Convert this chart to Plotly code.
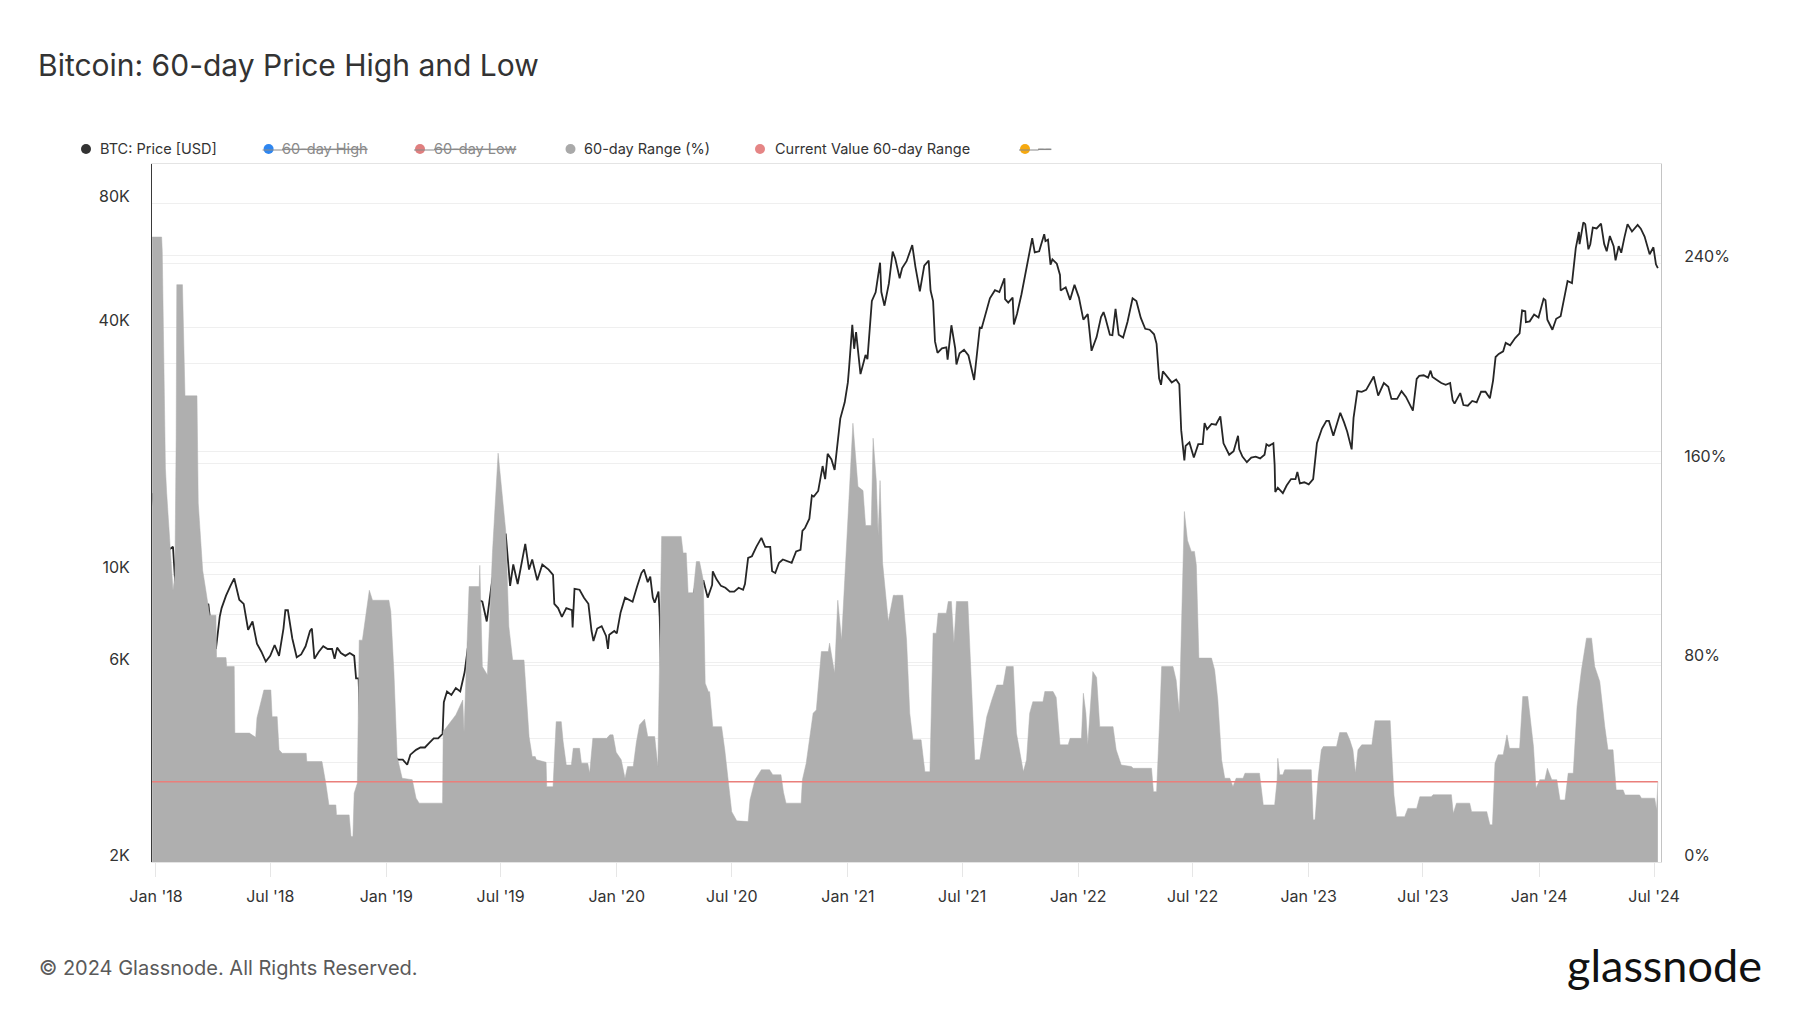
import plotly.graph_objects as go
import math

# ---------------- data ----------------
price_dates = [
"2017-12-26","2018-01-01","2018-01-07","2018-01-14","2018-01-17","2018-01-21","2018-01-28","2018-02-02","2018-02-05","2018-02-06",
"2018-02-11","2018-02-18","2018-02-20","2018-02-25","2018-03-04","2018-03-11","2018-03-18","2018-03-25","2018-04-01","2018-04-06",
"2018-04-12","2018-04-15","2018-04-22","2018-04-29","2018-05-05","2018-05-13","2018-05-20","2018-05-27","2018-06-03","2018-06-10",
"2018-06-17","2018-06-24","2018-07-01","2018-07-08","2018-07-15","2018-07-22","2018-07-25","2018-07-29","2018-08-05","2018-08-12",
"2018-08-19","2018-08-26","2018-09-02","2018-09-05","2018-09-09","2018-09-16","2018-09-23","2018-09-30","2018-10-07","2018-10-11",
"2018-10-15","2018-10-21","2018-10-28","2018-11-04","2018-11-11","2018-11-14","2018-11-18","2018-11-20","2018-11-25","2018-12-02",
"2018-12-09","2018-12-15","2018-12-20","2018-12-24","2018-12-31",
"2019-01-06","2019-01-10","2019-01-20","2019-01-27","2019-02-03","2019-02-08","2019-02-17","2019-02-24","2019-03-03","2019-03-10",
"2019-03-17","2019-03-24","2019-03-31","2019-04-02","2019-04-07","2019-04-14","2019-04-21","2019-04-28","2019-05-05","2019-05-12",
"2019-05-14","2019-05-17","2019-05-26","2019-06-02","2019-06-09","2019-06-16","2019-06-22","2019-06-26","2019-06-28","2019-07-02",
"2019-07-09","2019-07-16","2019-07-21","2019-07-28","2019-08-04","2019-08-09","2019-08-15","2019-08-20","2019-08-28","2019-09-05",
"2019-09-15","2019-09-22","2019-09-24","2019-09-30","2019-10-06","2019-10-13","2019-10-22","2019-10-23","2019-10-26","2019-11-03",
"2019-11-10","2019-11-17","2019-11-22","2019-11-25","2019-12-01","2019-12-08","2019-12-15","2019-12-18","2019-12-20","2019-12-28",
"2020-01-01","2020-01-07","2020-01-14","2020-01-19","2020-01-26","2020-02-02","2020-02-09","2020-02-13","2020-02-19","2020-02-23",
"2020-02-27","2020-03-01","2020-03-07","2020-03-09","2020-03-12","2020-03-16","2020-03-19","2020-03-22","2020-03-29","2020-04-05",
"2020-04-12","2020-04-19","2020-04-26","2020-04-30","2020-05-07","2020-05-10","2020-05-17","2020-05-24","2020-05-31","2020-06-01",
"2020-06-07","2020-06-14","2020-06-21","2020-06-28","2020-07-05","2020-07-12","2020-07-19","2020-07-22","2020-07-27","2020-08-02",
"2020-08-09","2020-08-17","2020-08-23","2020-08-31","2020-09-03","2020-09-08","2020-09-14","2020-09-20","2020-09-27","2020-10-04",
"2020-10-11","2020-10-18","2020-10-21","2020-10-25","2020-11-01","2020-11-05","2020-11-08","2020-11-15","2020-11-22","2020-11-26",
"2020-11-30","2020-12-06","2020-12-11","2020-12-16","2020-12-20","2020-12-27",
"2021-01-01","2021-01-03","2021-01-08","2021-01-11","2021-01-14","2021-01-21","2021-01-24","2021-01-29","2021-02-01","2021-02-08",
"2021-02-14","2021-02-21","2021-02-23","2021-02-28","2021-03-07","2021-03-13","2021-03-17","2021-03-24","2021-03-28","2021-04-04",
"2021-04-13","2021-04-18","2021-04-25","2021-05-02","2021-05-09","2021-05-12","2021-05-16","2021-05-19","2021-05-23","2021-05-30",
"2021-06-06","2021-06-08","2021-06-14","2021-06-20","2021-06-22","2021-06-27","2021-07-04","2021-07-11","2021-07-20","2021-07-25",
"2021-07-29","2021-08-01","2021-08-08","2021-08-14","2021-08-22","2021-08-29","2021-09-06","2021-09-07","2021-09-12","2021-09-19",
"2021-09-21","2021-09-26","2021-10-03","2021-10-10","2021-10-17","2021-10-20","2021-10-24","2021-10-31","2021-11-08","2021-11-10",
"2021-11-14","2021-11-18","2021-11-21","2021-11-28","2021-12-03","2021-12-04","2021-12-12","2021-12-19","2021-12-26",
"2022-01-02","2022-01-09","2022-01-16","2022-01-22","2022-01-30","2022-02-06","2022-02-10","2022-02-13","2022-02-20","2022-02-24",
"2022-03-01","2022-03-06","2022-03-13","2022-03-20","2022-03-28","2022-04-03","2022-04-10","2022-04-17","2022-04-24","2022-05-01",
"2022-05-05","2022-05-09","2022-05-12","2022-05-15","2022-05-22","2022-05-29","2022-06-05","2022-06-10","2022-06-13","2022-06-18",
"2022-06-20","2022-06-26","2022-07-03","2022-07-10","2022-07-17","2022-07-20","2022-07-24","2022-07-31","2022-08-07","2022-08-14",
"2022-08-19","2022-08-28","2022-09-04","2022-09-11","2022-09-13","2022-09-18","2022-09-25","2022-10-02","2022-10-09","2022-10-16",
"2022-10-23","2022-10-26","2022-10-30","2022-11-06","2022-11-08","2022-11-09","2022-11-13","2022-11-21","2022-11-27","2022-12-04",
"2022-12-11","2022-12-14","2022-12-18","2022-12-25",
"2023-01-01","2023-01-08","2023-01-14","2023-01-22","2023-01-29","2023-02-02","2023-02-09","2023-02-16","2023-02-20","2023-02-26",
"2023-03-03","2023-03-10","2023-03-13","2023-03-19","2023-03-26","2023-04-02","2023-04-10","2023-04-14","2023-04-21","2023-04-30",
"2023-05-07","2023-05-12","2023-05-21","2023-05-28","2023-06-04","2023-06-10","2023-06-15","2023-06-21","2023-06-25","2023-07-02",
"2023-07-09","2023-07-13","2023-07-16","2023-07-23","2023-07-30","2023-08-06","2023-08-13","2023-08-17","2023-08-20","2023-08-29",
"2023-09-03","2023-09-10","2023-09-17","2023-09-24","2023-10-01","2023-10-08","2023-10-15","2023-10-20","2023-10-24","2023-10-29",
"2023-11-05","2023-11-09","2023-11-16","2023-11-24","2023-12-01","2023-12-05","2023-12-10","2023-12-11","2023-12-17","2023-12-24",
"2023-12-31",
"2024-01-08","2024-01-11","2024-01-14","2024-01-22","2024-01-28","2024-02-04","2024-02-11","2024-02-15","2024-02-22","2024-02-28",
"2024-03-04","2024-03-05","2024-03-11","2024-03-14","2024-03-19","2024-03-22","2024-03-26","2024-04-01","2024-04-08","2024-04-13",
"2024-04-17","2024-04-22","2024-04-28","2024-05-01","2024-05-06","2024-05-10","2024-05-15","2024-05-20","2024-05-27","2024-06-05",
"2024-06-10","2024-06-16","2024-06-24","2024-06-30","2024-07-04","2024-07-07",
]
price_usd = [
15800,13400,16500,13600,11200,11500,11700,8800,6900,7700,
8100,10400,11200,9600,11400,9500,8200,8500,6800,6600,
7900,8300,8900,9400,9800,8700,8500,7350,7700,6800,
6500,6150,6350,6750,6350,7400,8200,8200,7000,6300,
6400,6700,7300,7400,6250,6500,6700,6600,6600,6250,
6650,6450,6350,6450,6350,5600,5600,4500,4000,4150,
3600,3250,4050,4050,3750,
4050,3600,3550,3550,3450,3650,3750,3800,3800,3900,
4000,4000,4100,4900,5200,5100,5300,5200,5800,7000,
8000,7300,8700,8600,7700,9300,10700,12900,12400,10600,
12600,9400,10600,9500,10800,11900,10300,10900,9700,10600,
10300,10000,8500,8300,7900,8300,8200,7450,9250,9200,
8800,8500,7300,6900,7400,7500,7100,6600,7150,7300,
7200,8100,8800,8700,8600,9350,10100,10300,9600,9900,
8800,8550,9100,7900,4900,5000,6200,5800,5900,6800,
6900,7100,7700,8650,9900,8750,9700,8800,9450,10200,
9750,9400,9300,9100,9100,9300,9200,9500,11000,11100,
11700,12300,11700,11700,10200,10100,10700,10900,10800,10700,
11400,11500,12800,13000,13700,15600,15500,16000,18400,17100,
19700,19100,18000,21300,24000,26300,
29400,32000,40600,35500,39000,30800,32300,34300,33500,46400,
48700,57500,48800,45200,51200,61200,58900,52700,55800,58000,
63500,56200,49000,56600,58200,49200,46400,37000,34700,35600,
35800,33400,40500,35600,32500,34600,35300,34200,29800,35400,
40000,39900,43800,47100,49300,48800,52700,46900,46000,47300,
40700,43200,48200,54700,61500,66000,60900,61300,67500,64900,
65400,56900,58600,57200,53700,49200,50100,46700,50800,
47300,41800,43100,35100,37900,42400,43600,42200,38400,38300,
44400,38400,37800,41300,47100,46400,42200,39700,39500,38500,
36500,30100,29000,31300,30300,29400,29900,29100,22500,19000,
20600,21000,19300,20800,20800,23400,22600,23300,23200,24300,
20900,19600,20000,21800,20200,19400,18800,19300,19400,19200,
19600,20800,20600,20900,18500,15900,16300,15800,16500,17100,
17100,17800,16700,16800,
16600,17100,20900,22700,23700,23700,21800,23600,24800,23500,
22300,20200,24100,28000,27900,28200,29600,30400,27300,29300,
28700,26800,26800,28000,27100,25900,25100,30000,30500,30600,
30200,31400,30300,29800,29300,29000,29300,26600,26100,27700,
25900,25800,26500,26300,27900,27900,26900,29700,33900,34500,
35000,36700,36200,37700,38700,44000,43800,41200,41400,43000,
42300,
47000,46600,41800,39500,42000,42600,48300,51900,51300,62400,
68300,63800,72100,71400,62000,63800,70000,69700,71600,63900,
61300,66800,63100,58300,63100,60800,66200,71400,68500,71100,
69600,66600,60300,62700,57000,55800,
]

range_dates = [
"2017-12-26","2018-01-10","2018-01-11","2018-01-13","2018-01-16","2018-01-18","2018-01-23","2018-01-25","2018-01-28","2018-01-31",
"2018-02-02","2018-02-03","2018-02-12","2018-02-16","2018-03-07","2018-03-09","2018-03-16","2018-03-21","2018-03-27","2018-04-06",
"2018-04-07","2018-04-22","2018-04-23","2018-05-05","2018-05-06","2018-05-29","2018-06-08","2018-06-10","2018-06-21","2018-07-02",
"2018-07-04","2018-07-12","2018-07-15","2018-07-20","2018-08-27","2018-08-28","2018-09-21","2018-09-27","2018-10-02","2018-10-13",
"2018-10-14","2018-11-03","2018-11-06","2018-11-09","2018-11-11","2018-11-16","2018-11-19","2018-11-24","2018-12-05","2018-12-10",
"2019-01-05","2019-01-08","2019-01-13","2019-01-18","2019-01-26","2019-02-11","2019-02-17","2019-02-22","2019-03-31","2019-04-01",
"2019-04-21","2019-05-02","2019-05-04","2019-05-12","2019-05-28","2019-05-29","2019-06-02","2019-06-10","2019-06-18","2019-06-27",
"2019-07-04","2019-07-09","2019-07-14","2019-07-20","2019-08-07","2019-08-10","2019-08-15","2019-08-20","2019-08-25","2019-08-26",
"2019-08-27","2019-09-11","2019-09-12","2019-09-22","2019-09-25","2019-09-27","2019-10-05","2019-10-08","2019-10-13","2019-10-21",
"2019-10-24","2019-11-03","2019-11-06","2019-11-16","2019-11-19","2019-11-24","2019-12-16","2019-12-21","2019-12-26","2019-12-31",
"2020-01-08","2020-01-14","2020-01-18","2020-01-27","2020-02-01","2020-02-06","2020-02-14","2020-02-19","2020-03-01","2020-03-06",
"2020-03-12","2020-04-12","2020-04-15","2020-04-20","2020-04-23","2020-05-01","2020-05-06","2020-05-11","2020-05-17","2020-05-20",
"2020-05-25","2020-05-26","2020-05-27","2020-05-30","2020-06-01","2020-06-15","2020-06-20","2020-07-01","2020-07-09","2020-07-27",
"2020-07-30","2020-08-07","2020-08-17","2020-08-30","2020-09-04","2020-09-17","2020-09-21","2020-09-25","2020-10-19","2020-10-21",
"2020-10-27","2020-11-07","2020-11-12","2020-11-20","2020-12-01","2020-12-03","2020-12-11","2020-12-16","2020-12-22","2020-12-27",
"2021-01-04","2021-01-09","2021-01-17","2021-01-25","2021-01-29","2021-02-07","2021-02-10","2021-02-15","2021-02-18","2021-02-21",
"2021-02-25","2021-03-06","2021-03-14","2021-03-17","2021-03-18","2021-03-19","2021-03-29","2021-04-04","2021-04-09","2021-04-14",
"2021-04-27","2021-05-03","2021-05-11","2021-05-16","2021-05-21","2021-05-24","2021-06-06","2021-06-09","2021-06-14","2021-06-18",
"2021-06-22","2021-07-10","2021-07-13","2021-07-16","2021-07-21","2021-07-22","2021-07-23","2021-07-29","2021-08-01","2021-08-09",
"2021-08-17","2021-08-25","2021-09-04","2021-09-09","2021-09-20","2021-09-25","2021-10-06","2021-10-11","2021-10-16","2021-10-21",
"2021-11-06","2021-11-09","2021-11-22","2021-11-27","2021-12-03","2021-12-16","2021-12-19",
"2022-01-06","2022-01-09","2022-01-13","2022-01-16","2022-01-24","2022-01-30","2022-02-04","2022-02-25","2022-03-02","2022-03-10",
"2022-03-26","2022-03-29","2022-04-27","2022-04-30","2022-05-05","2022-05-10","2022-05-13","2022-05-31","2022-06-05","2022-06-10",
"2022-06-14","2022-06-18","2022-06-23","2022-06-29","2022-07-04","2022-07-07","2022-07-11","2022-07-31","2022-08-05","2022-08-10",
"2022-08-16","2022-08-21","2022-08-29","2022-09-03","2022-09-08","2022-09-19","2022-09-22","2022-10-15","2022-10-21","2022-11-08",
"2022-11-12","2022-11-13","2022-11-16","2022-11-21","2022-11-24",
"2023-01-05","2023-01-08","2023-01-11","2023-01-16","2023-01-21","2023-01-24","2023-02-14","2023-02-19","2023-03-02","2023-03-07",
"2023-03-12","2023-03-16","2023-03-20","2023-03-26","2023-04-11","2023-04-16","2023-05-10","2023-05-12","2023-05-16","2023-05-20",
"2023-06-02","2023-06-07","2023-06-21","2023-06-26","2023-07-14","2023-07-17","2023-08-15","2023-08-18","2023-08-23","2023-09-13",
"2023-09-16","2023-10-10","2023-10-15","2023-10-19","2023-10-23","2023-10-28","2023-11-05","2023-11-11","2023-11-15","2023-12-01",
"2023-12-06","2023-12-14","2023-12-19","2023-12-23","2023-12-27",
"2024-01-02","2024-01-10","2024-01-14","2024-01-21","2024-01-29","2024-02-03","2024-02-11","2024-02-16","2024-02-24","2024-03-01",
"2024-03-08","2024-03-16","2024-03-24","2024-03-29","2024-04-06","2024-04-14","2024-04-19","2024-04-27","2024-05-02","2024-05-13",
"2024-05-16","2024-06-08","2024-06-11","2024-07-02","2024-07-05","2024-07-07",
]
range_pct = [
250.7,250.7,245,200,158,148,129,124,109,115,
170,231.6,231.6,187,187,144,117,109,99,99,
82,82,78.4,78.4,51.7,51.7,50,57.8,69,69,
58.3,58.3,45,43.6,43.6,40.3,40.3,31.6,22.9,22.9,
18.9,18.9,10.2,10.2,27.6,31.6,89,89,109,105,
105,100.5,75.8,42.3,33.6,33,25.6,23.6,23.6,52.3,
59,65,52,110.5,110.5,119,78.4,75,124,164,
144,133,94.5,81,81,70.4,50.3,42.3,42.3,None,
41,40,30.2,30.2,46.3,56.3,56.3,48.3,38.9,38.9,
45.6,45.6,39.6,39.6,35.6,49.6,49.6,51,51,44,
41,33.6,38.3,38.3,48,55,57.3,50.3,50.3,38.3,
130.6,130.6,124,124,108,108,120.5,120.5,113,71.7,
68.4,None,68.4,60,54.3,54.3,45,20.2,16.5,16.2,
24.9,33,37,37,35,35,28,23.6,23.6,33,
39.6,59.7,61,84.4,84.4,87.8,75.7,105,89,113,
152,176,150.6,149,135,135,170,153,131,153,
120,96.5,107,107,None,107,107,89,59.7,49,
49,36.2,36.2,91.8,91.8,99.8,99.8,104.5,104.5,87.8,
104.5,104.5,86.4,73,41,None,41,41,45.6,58.3,
65,71,71,78.4,78.4,51.7,36.2,41,59.7,64.3,
64.3,68.4,68.4,66,47,47,49.6,
49.6,67.7,59.7,47,76.4,74,54.3,54.3,45,38.9,
38.3,37.6,37.6,28.2,28.2,57.7,78.4,78.4,73,59.7,
101,140.6,129,124.6,124.6,119,81.8,81.8,77,65,
41,33.6,33.6,30.2,33.6,33.6,35.6,35.6,22.9,22.9,
33,41.6,35,35,37,
37,16.9,16.9,34.2,45,46.3,46.3,51.9,51.9,49,
45,35.6,45,47,47,56.7,56.7,46.3,26.9,18.2,
18.2,21.5,21.5,26.2,26.2,27,27,19.5,23.6,23.6,
20.2,20.2,14.9,14.9,39.6,43,43,51,45.6,45.6,
66.4,66.4,54.3,46.3,29.6,
33,33,37.6,33,33,24.9,24.9,35.6,35.6,62.3,
77,89.8,89.8,78.4,72.4,54.3,45,45,28.9,28.9,
26.9,26.9,25.6,25.6,20.9,32.2,
]
current_range_pct = 32.2

x_tick_dates = ["2018-01-01","2018-07-01","2019-01-01","2019-07-01","2020-01-01","2020-07-01","2021-01-01",
                "2021-07-01","2022-01-01","2022-07-01","2023-01-01","2023-07-01","2024-01-01","2024-07-01"]
x_tick_labels = ["Jan '18","Jul '18","Jan '19","Jul '19","Jan '20","Jul '20","Jan '21",
                 "Jul '21","Jan '22","Jul '22","Jan '23","Jul '23","Jan '24","Jul '24"]
price_tick_vals = [2000, 4000, 6000, 8000, 10000, 20000, 40000, 60000, 80000]
price_tick_text = ["2K", "", "6K", "", "10K", "", "40K", "", "80K"]
pct_tick_vals = [0, 40, 80, 120, 160, 200, 240, 280]
pct_tick_text = ["0%", "", "80%", "", "160%", "", "240%", ""]

legend_names = ["BTC: Price [USD]", "60-day High", "60-day Low", "60-day Range (%)",
                "Current Value 60-day Range", "--"]
legend_colors = ["#333333", "#2e86f0", "#e07f7f", "#a9a9a9", "#e58585", "#f6a90f"]
legend_hidden = [False, True, True, False, False, True]

# ---------------- layout helpers ----------------
W, H = 1800, 1013
L, R, T, B = 152, 1661, 164, 862
FONT = "Inter, 'Open Sans', sans-serif"


def px(xp):
    return (xp - L) / (R - L)


def py(yp):
    return (B - yp) / (B - T)


fig = go.Figure()

fig.add_trace(go.Scatter(
    x=price_dates, y=price_usd, mode="lines", yaxis="y",
    line=dict(color="#262626", width=1.8), showlegend=False, hoverinfo="x+y"))

fig.add_trace(go.Scatter(
    x=range_dates, y=range_pct, mode="lines", yaxis="y2",
    fill="tozeroy", fillcolor="#afafaf", line=dict(color="#afafaf", width=0.5),
    connectgaps=False, showlegend=False))

fig.add_trace(go.Scatter(
    x=[range_dates[0], range_dates[-1]], y=[current_range_pct, current_range_pct],
    mode="lines", yaxis="y2", line=dict(color="#ea7f7b", width=1.6), showlegend=False))

annotations = []
shapes = []

# title
annotations.append(dict(text="Bitcoin: 60-day Price High and Low", xref="paper", yref="paper",
                        x=px(36), y=py(65), xanchor="left", yanchor="middle", showarrow=False,
                        font=dict(family=FONT, size=30, color="#333333")))
# footer
annotations.append(dict(text="© 2024 Glassnode. All Rights Reserved.", xref="paper", yref="paper",
                        x=px(37), y=py(968), xanchor="left", yanchor="middle", showarrow=False,
                        font=dict(family=FONT, size=20, color="#5a5a5a")))
annotations.append(dict(text="glassnode", xref="paper", yref="paper",
                        x=px(1764), y=py(965), xanchor="right", yanchor="middle", showarrow=False,
                        font=dict(family="Lato, 'Noto Sans', sans-serif", size=45, color="#111111")))

# legend
marker_x = [86, 268.6, 420, 570.5, 760, 1025]
text_x = [97.6, 280, 431.6, 582, 772.6, 1035.5]
leg_y = 149
for name, col, hid, mx, tx in zip(legend_names, legend_colors, legend_hidden, marker_x, text_x):
    shapes.append(dict(type="circle", xref="paper", yref="paper", xsizemode="pixel", ysizemode="pixel",
                       xanchor=px(mx), yanchor=py(leg_y), x0=-5, x1=5, y0=-5, y1=5,
                       fillcolor=col, line=dict(width=0)))
    label = f"<s>{name}</s>" if hid else name
    annotations.append(dict(text=label, xref="paper", yref="paper", x=px(tx), y=py(leg_y),
                            xanchor="left", yanchor="middle", showarrow=False,
                            font=dict(family=FONT, size=14.5, color="#8a8a8a" if hid else "#333333")))
    if hid:
        shapes.append(dict(type="line", xref="paper", yref="paper", xsizemode="pixel", ysizemode="pixel",
                           xanchor=px(mx), yanchor=py(leg_y + 1), x0=-6, x1=(tx - mx) + 3, y0=0, y1=0,
                           line=dict(color="#8a8a8a", width=1)))

fig.update_layout(
    width=W, height=H,
    margin=dict(l=L, r=W - R, t=T, b=H - B, pad=0),
    paper_bgcolor="white", plot_bgcolor="white",
    font=dict(family=FONT, size=16, color="#333333"),
    showlegend=False,
    xaxis=dict(type="date", range=["2017-12-25 18:00", "2024-07-12"],
               tickvals=x_tick_dates, ticktext=x_tick_labels,
               showgrid=False, zeroline=False,
               showline=True, linecolor="#e4e4e4", linewidth=1, mirror=True,
               ticks="outside", ticklen=14, tickcolor="#e6e6e6", tickwidth=1,
               ticklabelstandoff=6,
               tickfont=dict(family=FONT, size=16, color="#333333")),
    yaxis=dict(type="log", range=[math.log10(2000), 5],
               tickvals=price_tick_vals, ticktext=price_tick_text,
               showgrid=True, gridcolor="#efefef", gridwidth=1, zeroline=False,
               showline=True, linecolor="#3a3a3a", linewidth=1,
               ticks="", ticklabelstandoff=18, ticklabelshift=-7,
               tickfont=dict(family=FONT, size=16, color="#333333")),
    yaxis2=dict(overlaying="y", side="right", range=[0, 280],
                tickvals=pct_tick_vals, ticktext=pct_tick_text,
                showgrid=True, gridcolor="#efefef", gridwidth=1, zeroline=False,
                showline=True, linecolor="#c4c4c4", linewidth=1,
                ticks="", ticklabelstandoff=19, ticklabelshift=-7,
                tickfont=dict(family=FONT, size=16, color="#333333")),
    annotations=annotations,
    shapes=shapes,
)

fig.write_html("out.html", config={"displayModeBar": False},
               post_script="document.body.style.margin='0';document.body.style.overflow='hidden';")
